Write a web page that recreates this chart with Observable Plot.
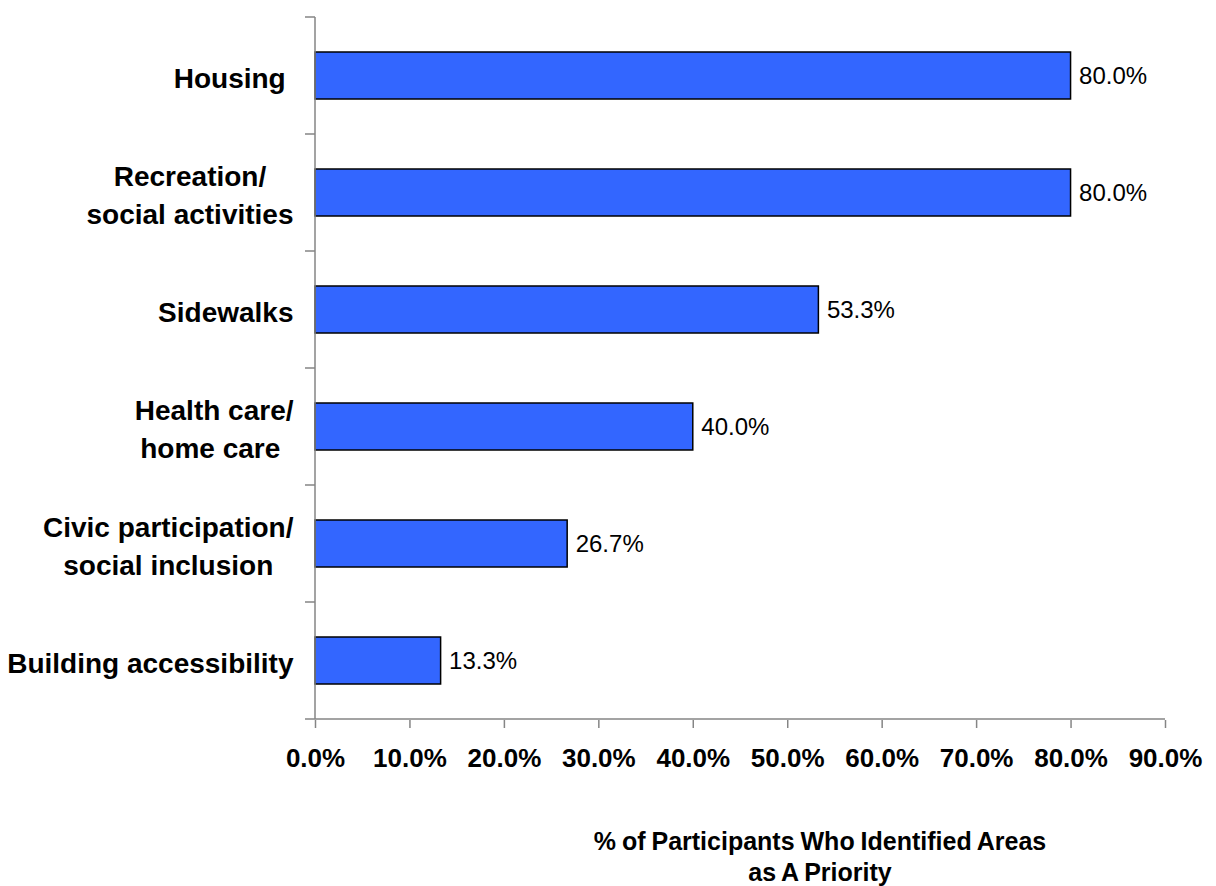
<!DOCTYPE html>
<html>
<head>
<meta charset="utf-8">
<script src="https://cdn.jsdelivr.net/npm/d3@7"></script>
<script src="https://cdn.jsdelivr.net/npm/@observablehq/plot@0.6"></script>
<style>
  html, body { margin: 0; padding: 0; background: #fff; }
  #wrap { position: relative; width: 1216px; height: 886px; font-family: "Liberation Sans", Arial, sans-serif; }
  #xtitle { position: absolute; left: 820px; top: 826px; transform: translateX(-50%); text-align: center;
    font-weight: bold; font-size: 25px; line-height: 31px; word-spacing: -1px; white-space: nowrap; color: #000; }
  svg text.ylab { white-space: pre; }
</style>
</head>
<body>
<div id="wrap"><div id="chart"></div><div id="xtitle">% of Participants Who Identified Areas<br>as A Priority</div></div>
<script>
const categories = ["Housing ", "Recreation/\nsocial activities", "Sidewalks", "Health care/\nhome care ", "Civic participation/\nsocial inclusion", "Building accessibility"];
const values = [0.80, 0.80, 0.533, 0.40, 0.267, 0.133];
const xTicks = [0, 0.1, 0.2, 0.3, 0.4, 0.5, 0.6, 0.7, 0.8, 0.9];

const data = categories.map((c, i) => ({category: c, value: values[i]}));
const fmt = d3.format(".1%");
const axisColor = "#858585";

function axesLines(index, scales, values, dimensions) {
  const y = scales.y;
  const step = y(categories[1]) - y(categories[0]);
  const bw = y.bandwidth ? y.bandwidth() : step * 0.4;
  const x0 = dimensions.marginLeft;
  const x1 = dimensions.width - dimensions.marginRight;
  const g = d3.create("svg:g").attr("stroke", axisColor).attr("stroke-width", 1.5).attr("fill", "none");
  const bounds = categories.map(c => y(c) + bw / 2 - step / 2);
  bounds.push(y(categories[categories.length - 1]) + bw / 2 + step / 2);
  const top = bounds[0], bottom = bounds[bounds.length - 1];
  g.append("line").attr("x1", x0).attr("x2", x0).attr("y1", top).attr("y2", bottom);
  g.append("line").attr("x1", x0).attr("x2", x1).attr("y1", bottom).attr("y2", bottom);
  for (const b of bounds) g.append("line").attr("x1", x0 - 10).attr("x2", x0).attr("y1", b).attr("y2", b);
  return g.node();
}

const plot = Plot.plot({
  width: 1216,
  height: 790,
  marginLeft: 315,
  marginRight: 51,
  marginTop: 15,
  marginBottom: 70,
  style: {fontFamily: "'Liberation Sans', Arial, sans-serif", background: "#fff"},
  x: {domain: [0, 0.9], ticks: xTicks},
  y: {domain: categories, paddingInner: 0.6, paddingOuter: 0.3},
  marks: [
    Plot.barX(data, {x: "value", y: "category", fill: "#3366FF", stroke: "#000", strokeWidth: 1.5}),
    Plot.text(data, {x: "value", y: "category", text: d => fmt(d.value), textAnchor: "start", dx: 8, fontSize: 24, fill: "#000"}),
    Plot.axisX({ticks: xTicks, tickFormat: fmt, tickSize: 8, tickPadding: 20, fontSize: 26, fontWeight: "bold", stroke: axisColor, strokeWidth: 1.5, color: "#000", label: null}),
    Plot.axisY({tickSize: 0, tickPadding: 22, fontSize: 28, fontWeight: "bold", lineHeight: 1.36, label: null, color: "#000"}),
    axesLines
  ]
});
document.getElementById("chart").appendChild(plot);

// center lines of multi-line category labels within their right-aligned block
const ytexts = plot.querySelectorAll("g[aria-label='y-axis tick label'] text");
ytexts.forEach(t => {
  t.classList.add("ylab");
  t.style.whiteSpace = "pre";
  const spans = t.querySelectorAll("tspan");
  if (spans.length > 1) {
    const widths = Array.from(spans).map(s => s.getComputedTextLength());
    const W = Math.max(...widths);
    t.setAttribute("text-anchor", "middle");
    spans.forEach(s => s.setAttribute("x", -W / 2));
  }
});
</script>
</body>
</html>
